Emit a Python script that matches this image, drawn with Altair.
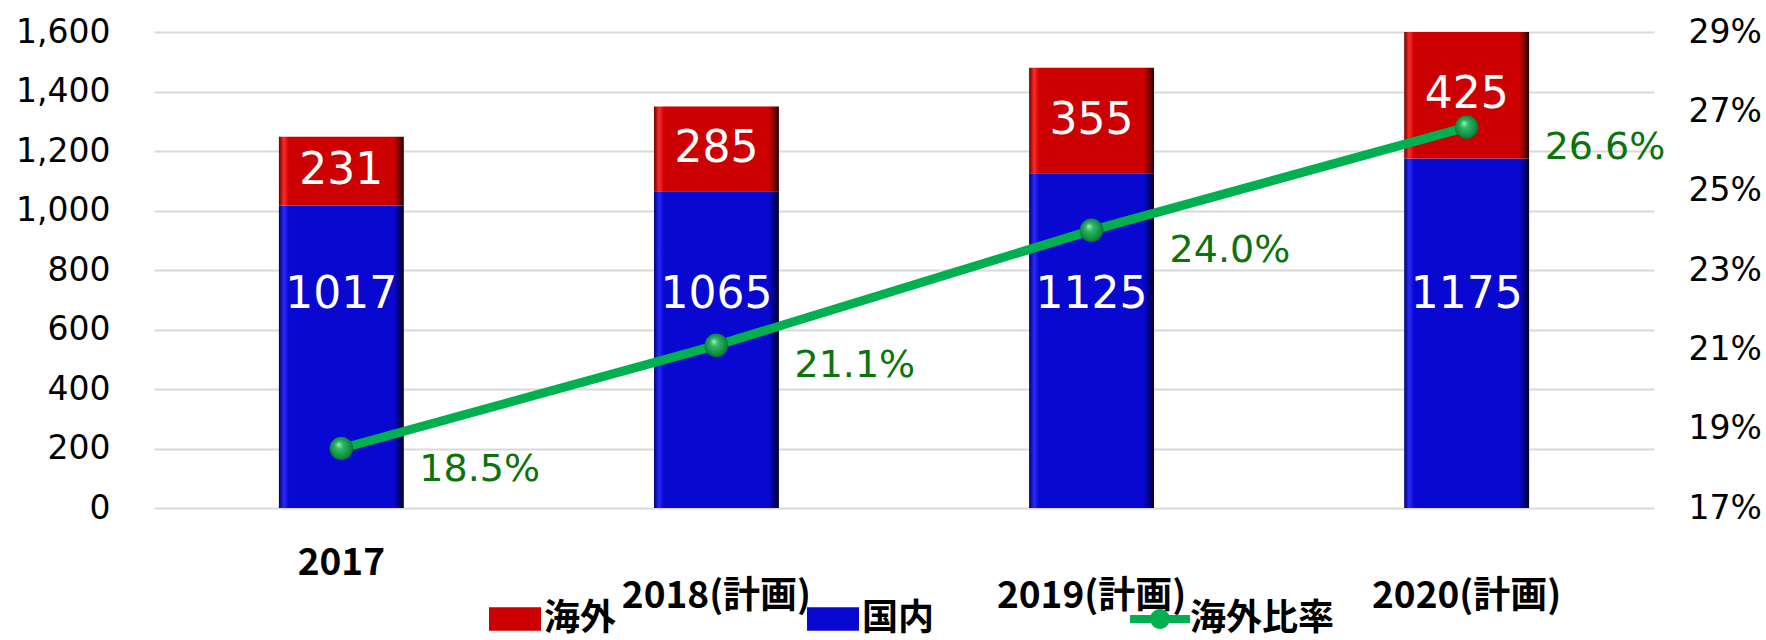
import altair as alt
import pandas as pd

years = ['2017', '2018(計画)', '2019(計画)', '2020(計画)']
domestic = [1017, 1065, 1125, 1175]
overseas = [231, 285, 355, 425]
ratio = [0.185, 0.211, 0.240, 0.266]

left_ticks = [0, 200, 400, 600, 800, 1000, 1200, 1400, 1600]
right_ticks = [0.17, 0.19, 0.21, 0.23, 0.25, 0.27, 0.29]

df = pd.DataFrame({'year': years, 'domestic': domestic, 'overseas': overseas, 'ratio': ratio})
df['s'] = '海外比率'
long_df = pd.DataFrame({'year': years * 2,
                        'series': ['海外'] * 4 + ['国内'] * 4,
                        'value': overseas + domestic})

RED = '#CC0000'
BLUE = '#0808D0'
GREEN = '#00B050'
PCT = '#0B730B'

xenc = alt.X('year:N', sort=years,
             scale=alt.Scale(paddingInner=0.667, paddingOuter=0.333),
             axis=alt.Axis(title=None, domain=False, ticks=False, tickSize=0, labelAngle=0,
                           labelFont='Noto Sans CJK JP', labelFontSize=37, labelFontWeight='bold',
                           labelColor='#000000', labelBaseline='top',
                           labelPadding={'condition': {'test': "datum.value == '2017'", 'value': 37},
                                         'value': 70},
                           labelLimit=400, labelOverlap=False))

scaleL = alt.Scale(domain=[0, 1600], nice=False, zero=True)
axisL = alt.Axis(title=None, values=left_ticks, format=',.0f', domain=False, ticks=False, tickSize=0,
                 labelFont='DejaVu Sans', labelFontSize=33, labelColor='#000000', labelPadding=44,
                 labelFlush=False, labelOverlap=False, gridColor='#D9D9D9', gridWidth=2)
scaleR = alt.Scale(domain=[0.17, 0.29], nice=False, zero=False)
axisR = alt.Axis(title=None, orient='right', values=right_ticks, format='.0%', domain=False,
                 ticks=False, tickSize=0, grid=False, labelFont='DejaVu Sans', labelFontSize=33,
                 labelColor='#000000', labelPadding=34, labelFlush=False, labelOverlap=False)

def yL(field):
    return alt.Y(field, type='quantitative', scale=scaleL, axis=axisL)

def yR(field):
    return alt.Y(field, type='quantitative', scale=scaleR, axis=axisR)

def hgrad(dark, mid, light, darkest):
    return alt.LinearGradient(gradient='linear', x1=0, x2=1, y1=0, y2=0, stops=[
        alt.GradientStop(offset=0, color=dark),
        alt.GradientStop(offset=0.04, color=light),
        alt.GradientStop(offset=0.08, color=mid),
        alt.GradientStop(offset=0.92, color=mid),
        alt.GradientStop(offset=0.97, color=dark),
        alt.GradientStop(offset=1, color=darkest),
    ])

base = alt.Chart(df)

blue_bars = base.mark_bar(fill=hgrad('#000070', BLUE, '#2a2aff', '#000020')).encode(
    x=xenc, y=yL('domestic'))

red_bars = base.transform_calculate(total='datum.domestic + datum.overseas').mark_bar(
    fill=hgrad('#700000', RED, '#ff2a2a', '#200000')).encode(
    x=xenc, y=yL('total'), y2='domestic:Q')

legend_bars = alt.Chart(long_df).mark_point(filled=True, opacity=0).encode(
    x=xenc, y=yL('value'),
    fill=alt.Fill('series:N', scale=alt.Scale(domain=['海外', '国内'], range=[RED, BLUE]),
                  legend=alt.Legend(title=None, orient='none', legendX=335, legendY=561,
                                    direction='horizontal', symbolType='M-1,-0.45H1V0.45H-1Z',
                                    symbolSize=2704, symbolStrokeWidth=0,
                                    labelFont='Noto Sans CJK JP', labelFontSize=36,
                                    labelFontWeight='bold', labelColor='#000000', labelOffset=3,
                                    columnPadding=190, padding=0, labelLimit=400)))

red_labels = base.transform_calculate(mid='datum.domestic + datum.overseas / 2').mark_text(
    color='white', font='DejaVu Sans', fontSize=44, baseline='middle', align='center').encode(
    x=xenc, y=yL('mid'), text='overseas:Q')

blue_labels = base.mark_text(
    color='white', font='DejaVu Sans', fontSize=44, baseline='middle', align='center').encode(
    x=xenc, y=alt.YDatum(715, type='quantitative', scale=scaleL), text='domestic:Q')

left = alt.layer(blue_bars, red_bars, legend_bars, red_labels, blue_labels)

line = base.mark_line(color=GREEN, strokeWidth=9).encode(x=xenc, y=yR('ratio'))

sphere = alt.RadialGradient(gradient='radial', x1=0.38, y1=0.32, r1=0, x2=0.5, y2=0.5, r2=0.55,
                            stops=[alt.GradientStop(offset=0, color='#A8F5C4'),
                                   alt.GradientStop(offset=0.3, color='#2EB865'),
                                   alt.GradientStop(offset=0.8, color='#0E8A40'),
                                   alt.GradientStop(offset=1, color='#06502A')])
points = base.mark_circle(size=560, fill=sphere, opacity=1).encode(x=xenc, y=yR('ratio'))

legend_line = base.mark_point(filled=True, opacity=0).encode(
    x=xenc, y=yR('ratio'),
    fill=alt.Fill('s:N', scale=alt.Scale(domain=['海外比率'], range=[GREEN]),
                  legend=alt.Legend(title=None, orient='none', legendX=976, legendY=557,
                                    direction='horizontal',
                                    symbolType='M-1,-0.13H1V0.13H-1Z M0.33,0A0.33,0.33,0,1,1,-0.33,0A0.33,0.33,0,1,1,0.33,0Z',
                                    symbolSize=3600, symbolStrokeWidth=0,
                                    labelFont='Noto Sans CJK JP', labelFontSize=36,
                                    labelFontWeight='bold', labelColor='#000000', labelOffset=0,
                                    padding=0, labelLimit=400)))

pct_labels = base.mark_text(color=PCT, font='DejaVu Sans', fontSize=38, align='left',
                            baseline='middle', dx=78, dy=21).encode(
    x=xenc, y=yR('ratio'), text=alt.Text('ratio:Q', format='.1%'))

right = alt.layer(line, points, legend_line, pct_labels)

chart = alt.layer(left, right).resolve_scale(y='independent', fill='independent').properties(
    width=1500, height=476,
    padding={'left': 154, 'top': 32, 'right': 112, 'bottom': 132},
    autosize='none', background='white'
).configure_view(stroke=None)

chart.save('out.html', embed_options={'renderer': 'svg', 'actions': False})
